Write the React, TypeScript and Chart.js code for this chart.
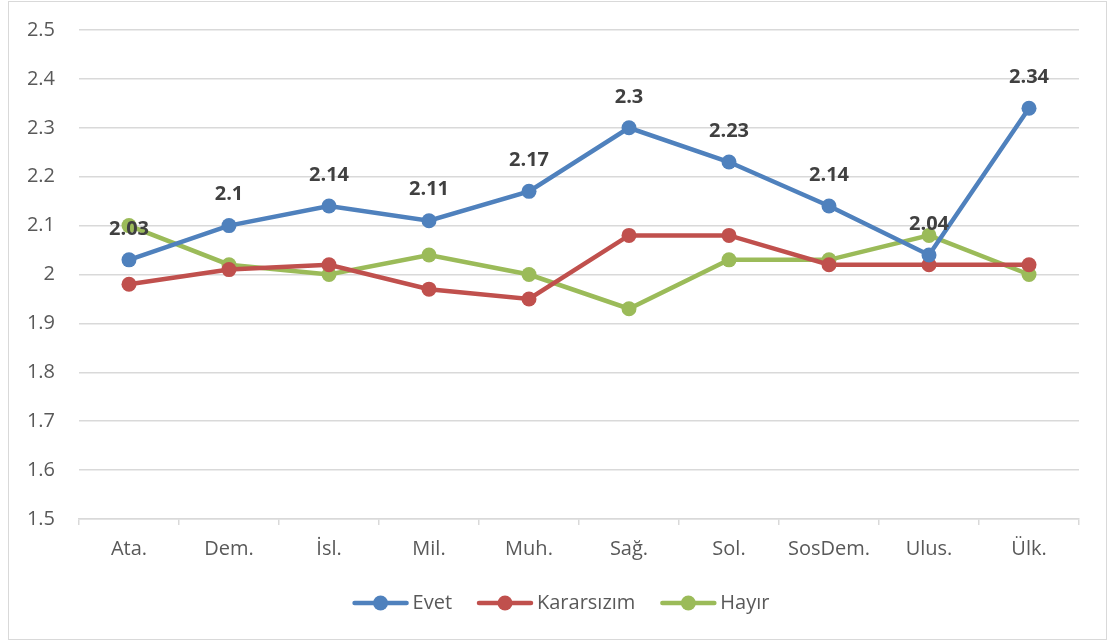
import React, { useEffect, useRef } from "react";
import { Chart, registerables } from "chart.js";

Chart.register(...registerables);

const categories = ["Ata.", "Dem.", "İsl.", "Mil.", "Muh.", "Sağ.", "Sol.", "SosDem.", "Ulus.", "Ülk."];
const evet = [2.03, 2.1, 2.14, 2.11, 2.17, 2.3, 2.23, 2.14, 2.04, 2.34];
const kararsizim = [1.98, 2.01, 2.02, 1.97, 1.95, 2.08, 2.08, 2.02, 2.02, 2.02];
const hayir = [2.1, 2.02, 2.0, 2.04, 2.0, 1.93, 2.03, 2.03, 2.08, 2.0];
const seriesNames = ["Evet", "Kararsızım", "Hayır"];
const seriesColors = ["#4f81bd", "#c0504d", "#9bbb59"];
const yMin = 1.5;
const yMax = 2.5;
const yStep = 0.1;

const FONT = "'Open Sans', 'Noto Sans', sans-serif";

const borderPlugin = {
  id: "outerBorder",
  beforeDraw(chart: any) {
    const ctx = chart.ctx;
    ctx.save();
    ctx.fillStyle = "#ffffff";
    ctx.fillRect(0, 0, chart.width, chart.height);
    ctx.strokeStyle = "#d9d9d9";
    ctx.lineWidth = 1;
    ctx.strokeRect(8.5, 1.5, 1098, 638);
    ctx.restore();
  },
};

const dataLabelPlugin = {
  id: "evetLabels",
  afterDatasetsDraw(chart: any) {
    const ctx = chart.ctx;
    const meta = chart.getDatasetMeta(0);
    const data = chart.data.datasets[0].data;
    ctx.save();
    ctx.font = `bold 20px ${FONT}`;
    ctx.fillStyle = "#404040";
    ctx.textAlign = "center";
    ctx.textBaseline = "middle";
    meta.data.forEach((pt: any, i: number) => {
      ctx.fillText(String(data[i]), pt.x, pt.y - 31);
    });
    ctx.restore();
  },
};

const legendPlugin = {
  id: "customLegend",
  afterDraw(chart: any) {
    const ctx = chart.ctx;
    ctx.save();
    ctx.font = `20px ${FONT}`;
    const symW = 56;
    const textGap = 4;
    const itemGap = 25;
    const widths = chart.data.datasets.map((d: any) => symW + textGap + ctx.measureText(d.label).width);
    const total = widths.reduce((a: number, b: number) => a + b, 0) + itemGap * (widths.length - 1);
    let x = 561 - total / 2;
    const y = 603;
    chart.data.datasets.forEach((d: any, i: number) => {
      ctx.strokeStyle = d.borderColor;
      ctx.lineWidth = 4.5;
      ctx.lineCap = "round";
      ctx.beginPath();
      ctx.moveTo(x + 2, y);
      ctx.lineTo(x + symW - 2, y);
      ctx.stroke();
      ctx.fillStyle = d.borderColor;
      ctx.beginPath();
      ctx.arc(x + symW / 2, y, 7.5, 0, Math.PI * 2);
      ctx.fill();
      ctx.fillStyle = "#595959";
      ctx.textAlign = "left";
      ctx.textBaseline = "middle";
      ctx.fillText(d.label, x + symW + textGap, y);
      x += widths[i] + itemGap;
    });
    ctx.restore();
  },
};

export default function App() {
  const ref = useRef<HTMLCanvasElement | null>(null);
  useEffect(() => {
    document.body.style.margin = "0";
    const seriesData = [evet, kararsizim, hayir];
    const chart = new Chart(ref.current as HTMLCanvasElement, {
      type: "line",
      data: {
        labels: categories,
        datasets: seriesData.map((d, i) => ({
          label: seriesNames[i],
          data: d,
          borderColor: seriesColors[i],
          backgroundColor: seriesColors[i],
          pointBackgroundColor: seriesColors[i],
          pointBorderColor: seriesColors[i],
          borderWidth: 4.5,
          pointRadius: 7.5,
          pointBorderWidth: 0,
          tension: 0,
          fill: false,
        })),
      },
      options: {
        responsive: false,
        animation: false,
        layout: { padding: { left: 8, right: 34, top: 30, bottom: 80 } },
        plugins: {
          legend: { display: false },
          tooltip: { enabled: false },
        },
        scales: {
          x: {
            offset: true,
            grid: {
              offset: true,
              drawOnChartArea: false,
              drawTicks: true,
              tickLength: 6,
              color: "#d9d9d9",
              lineWidth: 1.5,
            },
            border: { display: true, color: "#d9d9d9", width: 1.5 },
            ticks: {
              color: "#595959",
              font: { family: FONT, size: 20 },
              padding: 12,
              maxRotation: 0,
              autoSkip: false,
            },
            afterFit(scale: any) {
              scale.height = 44;
            },
          },
          y: {
            min: yMin,
            max: yMax,
            grid: {
              color: "#d9d9d9",
              lineWidth: 1.5,
              drawTicks: true,
              tickLength: 20,
              tickColor: "rgba(0,0,0,0)",
            },
            border: { display: false },
            ticks: {
              stepSize: yStep,
              color: "#595959",
              font: { family: FONT, size: 20 },
              padding: 4,
              callback: (v: any) => String(Math.round(Number(v) * 10) / 10),
            },
            afterFit(scale: any) {
              scale.width = 71;
            },
          },
        },
      },
      plugins: [borderPlugin, dataLabelPlugin, legendPlugin],
    });
    return () => chart.destroy();
  }, []);
  return (
    <div style={{ position: "fixed", left: 0, top: 0, width: 1113, height: 643 }}>
      <canvas ref={ref} width={1113} height={643} style={{ width: 1113, height: 643 }} />
    </div>
  );
}
